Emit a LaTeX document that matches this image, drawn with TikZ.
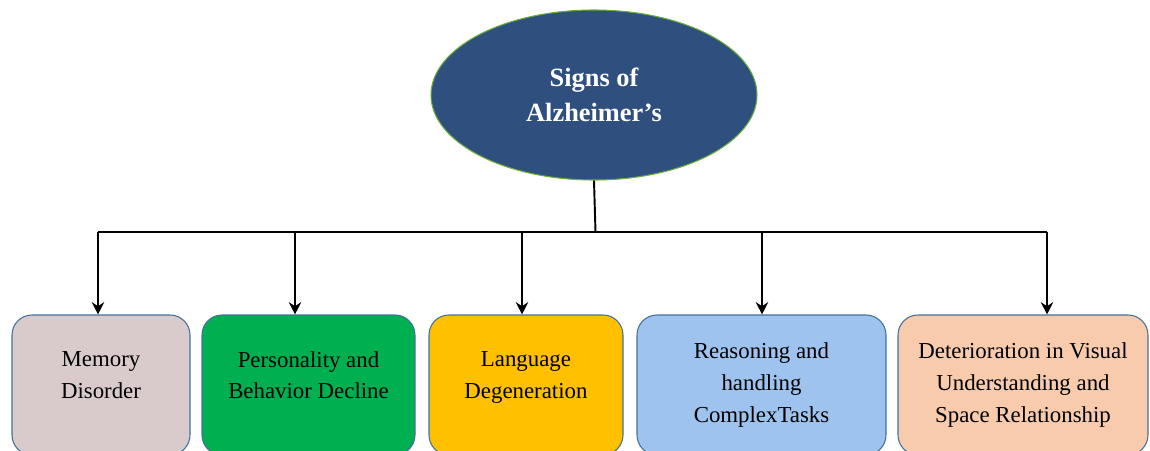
\documentclass[tikz,border=0pt]{standalone}
\usepackage{fontspec}
\setmainfont{Liberation Serif}
\usetikzlibrary{arrows.meta}
\usetikzlibrary{shapes.geometric}

\definecolor{signblue}{HTML}{2F4F7F}
\definecolor{rimgreen}{HTML}{6AAE3A}
\definecolor{boxrim}{HTML}{41719C}
\definecolor{memfill}{HTML}{D9CBCB}
\definecolor{persfill}{HTML}{00B050}
\definecolor{langfill}{HTML}{FFC000}
\definecolor{reasfill}{HTML}{9DC3EE}
\definecolor{visfill}{HTML}{F8CBAD}

\begin{document}
\begin{tikzpicture}[
    signbox/.style={draw=boxrim, line width=0.6pt, rounded corners=0.4cm,
        minimum height=2.8cm, align=center, font=\fontsize{13}{18}\selectfont},
    twoline/.style={text depth=0.4cm},
    link/.style={black, line width=1.1pt},
    pointer/.style={link, -{Stealth[length=7pt,width=7pt]}}
]
    \useasboundingbox (0,0) rectangle (23,9);

    % the top ellipse
    \node[ellipse, draw=rimgreen, fill=signblue, line width=0.6pt,
          minimum width=6.52cm, minimum height=3.4cm,
          text=white, align=center, font=\bfseries\fontsize{15}{20}\selectfont]
          (signs) at (11.88,7.1) {Signs of\\Alzheimer's};

    % the five boxes
    \node[signbox, twoline, fill=memfill, minimum width=3.56cm] (memory) at (2.02,1.3) {Memory\\Disorder};
    \node[signbox, twoline, fill=persfill, minimum width=4.26cm] (person) at (6.17,1.3) {Personality and\\Behavior Decline};
    \node[signbox, twoline, fill=langfill, minimum width=3.88cm] (lang) at (10.52,1.3) {Language\\Degeneration};
    \node[signbox, fill=reasfill, minimum width=4.98cm] (reason) at (15.23,1.3) {Reasoning and\\handling\\ComplexTasks};
    \node[signbox, fill=visfill, minimum width=5.0cm] (visual) at (20.46,1.3) {Deterioration in Visual\\Understanding and\\Space Relationship};

    % the bus
    \coordinate (hub) at (11.91,4.36);
    \coordinate (b1) at (1.96,4.36);
    \coordinate (b2) at (5.9,4.36);
    \coordinate (b3) at (10.44,4.36);
    \coordinate (b4) at (15.24,4.36);
    \coordinate (b5) at (20.94,4.36);

    \draw[link] (signs.south) -- (hub);
    \draw[link] (b1) -- (b5);
    \draw[pointer] (b1) -- (b1 |- memory.north);
    \draw[pointer] (b2) -- (b2 |- person.north);
    \draw[pointer] (b3) -- (b3 |- lang.north);
    \draw[pointer] (b4) -- (b4 |- reason.north);
    \draw[pointer] (b5) -- (b5 |- visual.north);
\end{tikzpicture}
\end{document}
